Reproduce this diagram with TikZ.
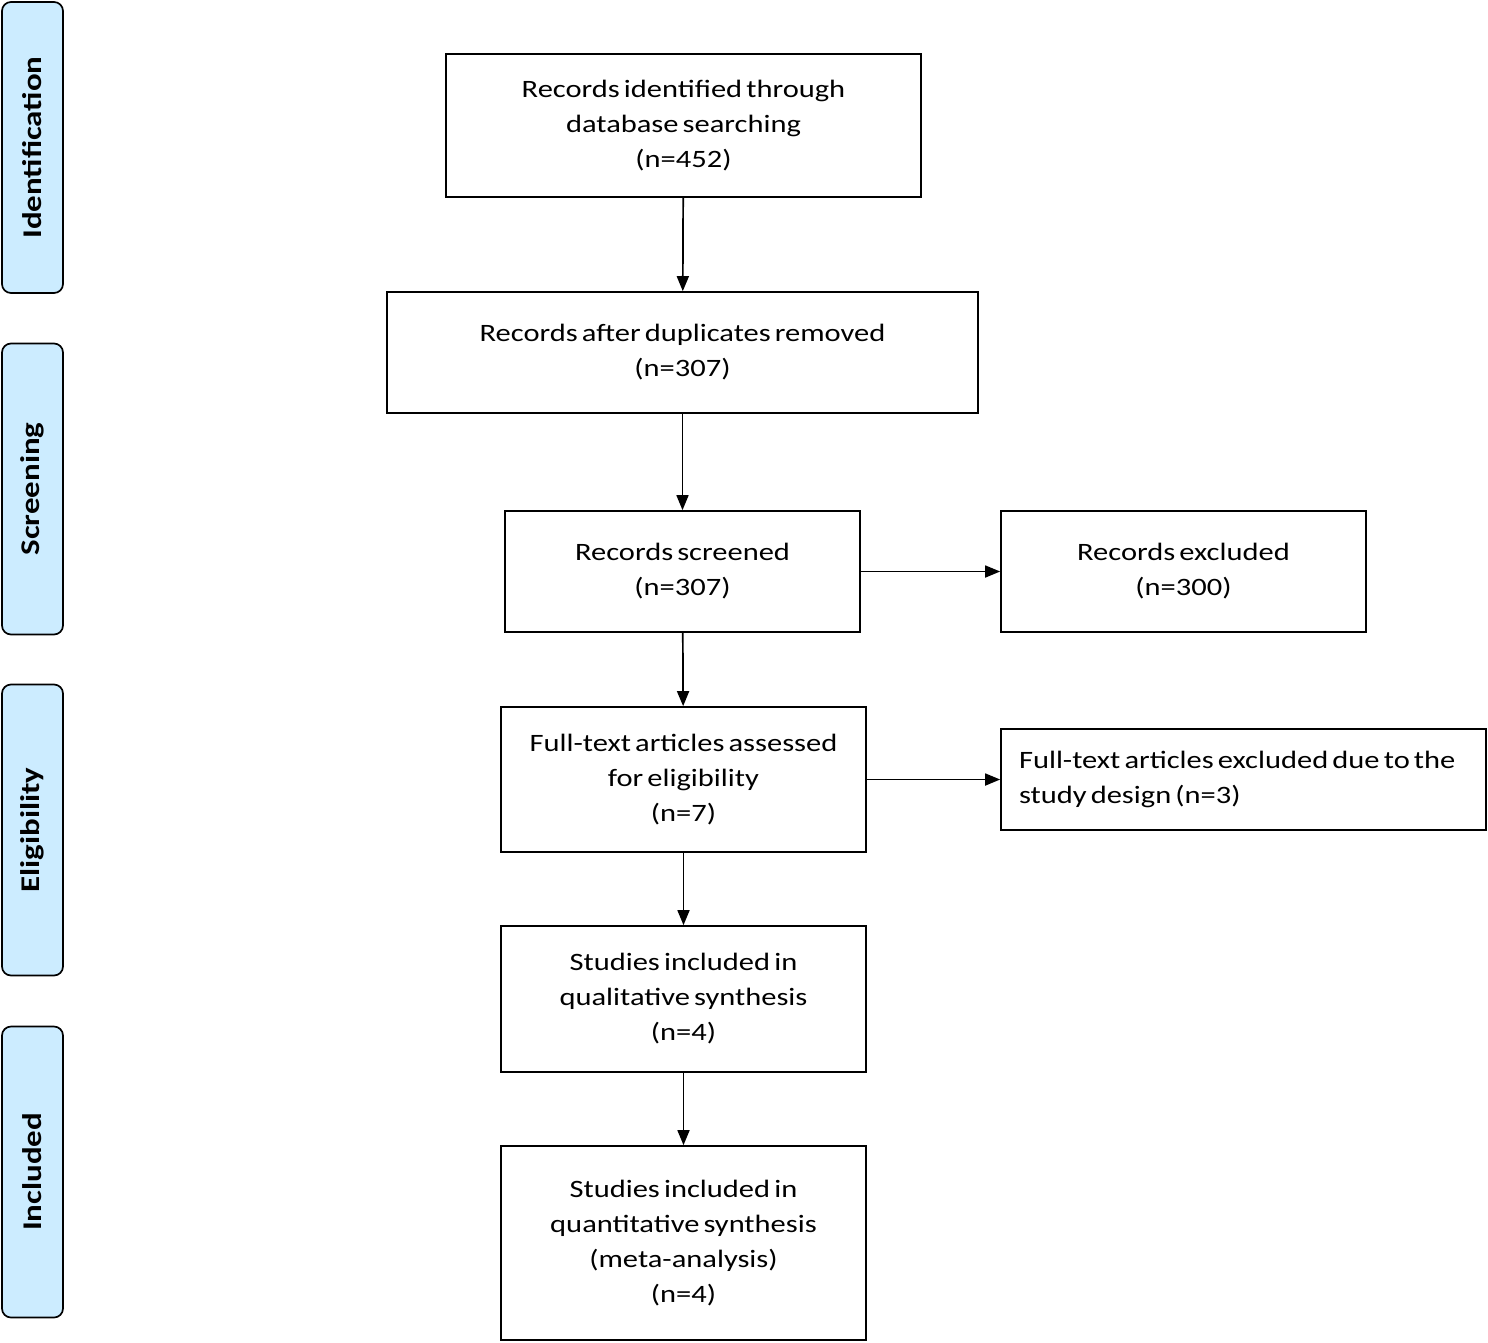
\documentclass[tikz,border=0pt]{standalone}
\usepackage{fontspec}
\setmainfont{Carlito}[FakeStretch=1.22, WordSpace=0.6]
\usetikzlibrary{positioning, arrows.meta}
\definecolor{stageblue}{RGB}{204, 236, 255}

\begin{document}
\begin{tikzpicture}[
    x=1pt, y=-1pt,
    stepbox/.style={rectangle, draw=black, line width=1.7pt, align=center, inner sep=0pt, font=\fontsize{25}{35}\selectfont},
    stage/.style={rectangle, rounded corners=9pt, draw=black, line width=1.7pt, fill=stageblue, rotate=90, minimum width=291pt, minimum height=61pt, font=\fontsize{27}{30}\selectfont\bfseries},
    arrow/.style={line width=1.7pt, -{Triangle[length=15pt, width=12pt]}}
]
\useasboundingbox (0,0) rectangle (1488,1342);

% stages on the left
\node (ident) [stage] at (32.5,147.5) {Identification};
\node (screen) [stage] at (32.5,489) {Screening};
\node (elig) [stage] at (32.5,830) {Eligibility};
\node (incl) [stage] at (32.5,1172) {Included};

% flow boxes
\node (search) [stepbox, minimum width=475pt, minimum height=143pt] at (683.5,125.5) {Records identified through\\database searching\\(n=452)};
\node (dedup) [stepbox, minimum width=591pt, minimum height=121pt] at (682.5,352.5) {Records after duplicates removed\\(n=307)};
\node (screened) [stepbox, minimum width=355pt, minimum height=121pt] at (682.5,571.5) {Records screened\\(n=307)};
\node (excluded) [stepbox, minimum width=365pt, minimum height=121pt] at (1183.5,571.5) {Records excluded\\(n=300)};
\node (fulltext) [stepbox, minimum width=365pt, minimum height=145pt] at (683.5,779.5) {Full-text articles assessed\\for eligibility\\(n=7)};
\node (ftexcluded) [stepbox, align=flush left, text width=449pt, inner xsep=18pt, minimum height=101pt] at (1243.5,779.5) {Full-text articles excluded due to the\\study design (n=3)};
\node (qualitative) [stepbox, minimum width=365pt, minimum height=146pt] at (683.5,999) {Studies included in\\qualitative synthesis\\(n=4)};
\node (quantitative) [stepbox, minimum width=365pt, minimum height=194pt] at (683.5,1243) {Studies included in\\quantitative synthesis\\(meta-analysis)\\(n=4)};

% connectors
\draw [arrow] (search) -- (dedup);
\draw [arrow] (dedup) -- (screened);
\draw [arrow] (screened) -- (excluded);
\draw [arrow] (screened) -- (fulltext);
\draw [arrow] (fulltext) -- (ftexcluded);
\draw [arrow] (fulltext) -- (qualitative);
\draw [arrow] (qualitative) -- (quantitative);

\end{tikzpicture}
\end{document}
